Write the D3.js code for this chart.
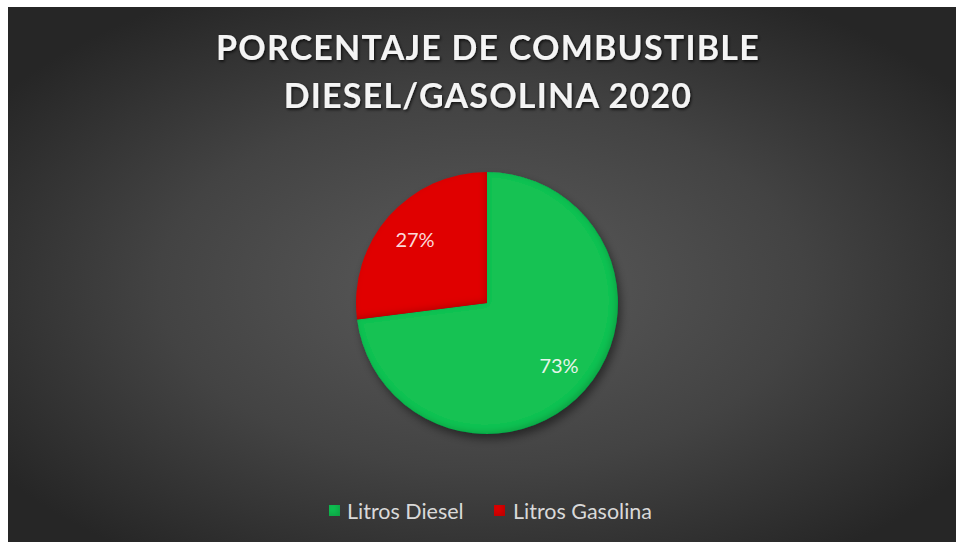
<!DOCTYPE html>
<html>
<head>
<meta charset="utf-8">
<script src="https://cdn.jsdelivr.net/npm/d3@7"></script>
<style>
  html, body { margin: 0; padding: 0; background: #fff; }
  svg { display: block; }
</style>
</head>
<body>
<div id="chart"></div>
<script>
// data
const categories = ['Litros Diesel', 'Litros Gasolina'];
const shares = [73, 27];
const sliceColors = ['#12c253', '#e00000'];
const titleLines = ['PORCENTAJE DE COMBUSTIBLE', 'DIESEL/GASOLINA 2020'];

const config = {
  width: 956,
  height: 542,
  panel: {x: 8, y: 7},
  cx: 487,
  cy: 303,
  radius: 131,
  labelRadius: 96
};

const svg = d3.select('#chart').append('svg')
    .attr('width', config.width)
    .attr('height', config.height);

const defs = svg.append('defs');

// dark radial background, lighter in the middle
const bg = defs.append('radialGradient')
    .attr('id', 'bg-grad')
    .attr('cx', '50%').attr('cy', '52%').attr('r', '62%');
bg.append('stop').attr('offset', '0%').attr('stop-color', '#5b5b5b');
bg.append('stop').attr('offset', '55%').attr('stop-color', '#434343');
bg.append('stop').attr('offset', '100%').attr('stop-color', '#262626');

// inner edge shading so the slices look a bit raised
const bevel = defs.append('filter')
    .attr('id', 'bevel')
    .attr('x', '-10%').attr('y', '-10%').attr('width', '120%').attr('height', '120%');
bevel.append('feGaussianBlur').attr('in', 'SourceAlpha').attr('stdDeviation', 3).attr('result', 'blur');
bevel.append('feOffset').attr('in', 'blur').attr('dx', -2).attr('dy', -2).attr('result', 'off');
bevel.append('feComposite').attr('in', 'SourceAlpha').attr('in2', 'off')
    .attr('operator', 'arithmetic').attr('k2', 1).attr('k3', -1).attr('result', 'edge');
bevel.append('feFlood').attr('flood-color', '#000').attr('flood-opacity', 0.35).attr('result', 'dark');
bevel.append('feComposite').attr('in', 'dark').attr('in2', 'edge').attr('operator', 'in').attr('result', 'innerShadow');
const bm = bevel.append('feMerge');
bm.append('feMergeNode').attr('in', 'SourceGraphic');
bm.append('feMergeNode').attr('in', 'innerShadow');

const shadow = defs.append('filter')
    .attr('id', 'shadow')
    .attr('x', '-20%').attr('y', '-20%').attr('width', '140%').attr('height', '140%');
shadow.append('feGaussianBlur').attr('stdDeviation', 4);

const textShadow = defs.append('filter').attr('id', 'text-shadow')
    .attr('x', '-5%').attr('y', '-30%').attr('width', '110%').attr('height', '160%');
textShadow.append('feDropShadow').attr('dx', 1).attr('dy', 1.5)
    .attr('stdDeviation', 1.5).attr('flood-color', '#000').attr('flood-opacity', 0.8);

svg.append('rect')
    .attr('x', config.panel.x)
    .attr('y', config.panel.y)
    .attr('width', config.width - config.panel.x)
    .attr('height', config.height - config.panel.y)
    .attr('fill', 'url(#bg-grad)');

// title
svg.append('g')
    .attr('filter', 'url(#text-shadow)')
  .selectAll('text')
  .data(titleLines)
  .join('text')
    .attr('x', config.cx + 1)
    .attr('y', (d, i) => 60 + i * 48)
    .attr('text-anchor', 'middle')
    .attr('font-family', 'Lato, "Open Sans", sans-serif')
    .attr('font-weight', 'bold')
    .attr('font-size', 34)
    .attr('letter-spacing', 1.2)
    .attr('fill', '#f4f4f4')
    .text(d => d);

// pie
const pie = d3.pie().sort(null).value(d => d);
const arcs = pie(shares);
const arc = d3.arc().innerRadius(0).outerRadius(config.radius);
const labelArc = d3.arc().innerRadius(config.labelRadius).outerRadius(config.labelRadius);

const pieG = svg.append('g')
    .attr('transform', `translate(${config.cx},${config.cy})`);

pieG.append('circle')
    .attr('cx', 3).attr('cy', 5)
    .attr('r', config.radius)
    .attr('fill', '#000')
    .attr('opacity', 0.45)
    .attr('filter', 'url(#shadow)');

pieG.selectAll('.slice')
  .data(arcs)
  .join('path')
    .attr('class', 'slice')
    .attr('d', arc)
    .attr('fill', (d, i) => sliceColors[i])
    .attr('filter', 'url(#bevel)');

pieG.selectAll('.slice-label')
  .data(arcs)
  .join('text')
    .attr('class', 'slice-label')
    .attr('transform', d => `translate(${labelArc.centroid(d)})`)
    .attr('text-anchor', 'middle')
    .attr('dy', '0.35em')
    .attr('font-family', 'Lato, "Open Sans", sans-serif')
    .attr('font-size', 20)
    .attr('fill', (d, i) => i === 0 ? '#e6f5ea' : '#fbd9d9')
    .text(d => d.data + '%');

// legend
const legendItems = [
  {x: 329, textX: 347},
  {x: 494, textX: 513}
];
const legend = svg.append('g').attr('transform', 'translate(0,511)');
const item = legend.selectAll('.legend-item')
  .data(categories)
  .join('g')
    .attr('class', 'legend-item')
    .attr('transform', (d, i) => `translate(${legendItems[i].x},0)`);

item.append('rect')
    .attr('x', 0).attr('y', -6)
    .attr('width', 11).attr('height', 11)
    .attr('fill', (d, i) => sliceColors[i])
    .attr('filter', 'url(#bevel)');

item.append('text')
    .attr('x', (d, i) => legendItems[i].textX - legendItems[i].x)
    .attr('dy', '0.35em')
    .attr('font-family', 'Lato, "Open Sans", sans-serif')
    .attr('font-size', 21.5)
    .attr('fill', '#d9d9d9')
    .text(d => d);
</script>
</body>
</html>
